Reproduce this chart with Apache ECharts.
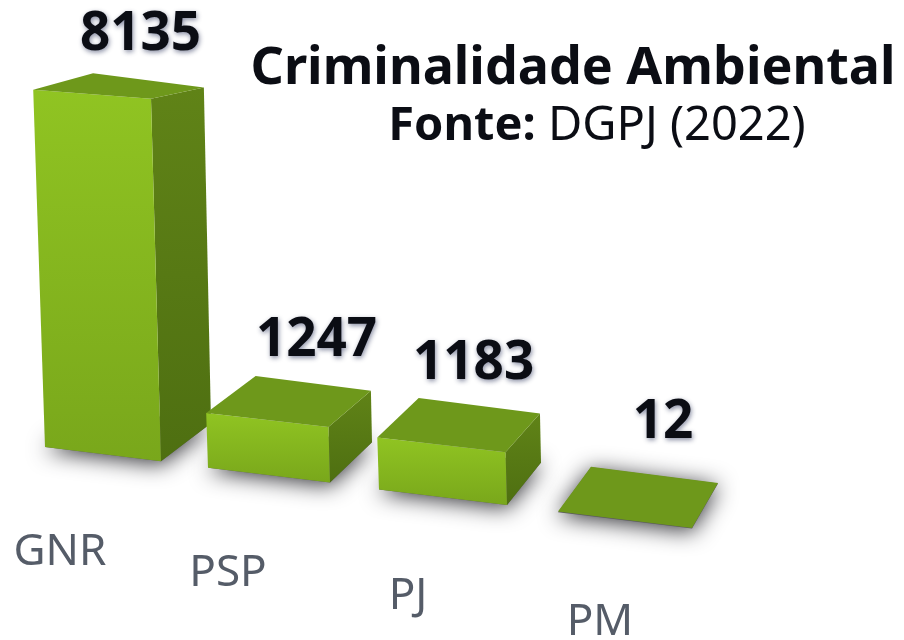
<!DOCTYPE html>
<html>
<head>
<meta charset="utf-8">
<style>
  html, body { margin: 0; padding: 0; background: #fff; }
  #chart { width: 904px; height: 640px; }
</style>
<script src="https://cdn.jsdelivr.net/npm/echarts@6/dist/echarts.min.js"></script>
</head>
<body>
<div id="chart"></div>
<script>
const categories = ['GNR', 'PSP', 'PJ', 'PM'];
const values = [8135, 1247, 1183, 12];
const titleText = 'Criminalidade Ambiental';
const sourceLabel = 'Fonte:';
const sourceText = 'DGPJ (2022)';

// nudges for the labels, the picture does not place them evenly
const valueLabelNudge = [[22, -54], [28, -61], [15, -62], [25, -74]];
const categoryLabelNudge = [[15, 105], [20, 106], [29, 107], [42, 110]];

const font = '"Noto Sans", sans-serif';
const frontColor = ['#90c422', '#79a71b'];
const sideColor = ['#608317', '#4e6f11'];
const topColor = '#6e981b';

function gradient(colors) {
    return new echarts.graphic.LinearGradient(0, 0, 0, 1, [
        { offset: 0, color: colors[0] },
        { offset: 1, color: colors[1] }
    ]);
}

// one fake 3d box, the perspective is only a few skew factors
function renderBox(params, api) {
    const i = api.value(0);
    const v = api.value(1);
    const base = api.coord([i, 0]);
    const h = base[1] - api.coord([i, v])[1];

    const w = 116 + 6 * i;
    const x = base[0] - w / 2 + 4 * i * i;
    const y = base[1] + 0.127 * (x - 45);

    const fl = [x, y];
    const fr = [x + w, y + 0.122 * w];
    const depth = [50 - 8 * i, -38 - 2.3 * i];
    const br = [fr[0] + depth[0], fr[1] + depth[1]];
    const bl = [fl[0] + depth[0] + 7, fl[1] + depth[1]];

    const tfl = [fl[0] - 0.033 * h, fl[1] - h];
    const tfr = [fr[0] - 0.028 * h, fr[1] - 1.015 * h];
    const tbr = [br[0] - 0.02 * h, br[1] - 0.94 * h];
    const tbl = [bl[0] - 0.025 * h, bl[1] - 0.94 * h];

    const topCx = (tfl[0] + tbr[0]) / 2;
    const topCy = (tfl[1] + tbr[1]) / 2;
    const valueNudge = valueLabelNudge[i];
    const catNudge = categoryLabelNudge[i];

    const children = [
        {
            type: 'polygon',
            shape: { points: [fl, fr, br, bl] },
            style: {
                fill: '#5a5a5f',
                shadowBlur: 22,
                shadowOffsetY: 3,
                shadowColor: 'rgba(50,50,55,1)'
            }
        }
    ];
    if (h > 2) {
        children.push(
            {
                type: 'polygon',
                shape: { points: [fr, br, tbr, tfr] },
                style: { fill: gradient(sideColor) }
            },
            {
                type: 'polygon',
                shape: { points: [fl, fr, tfr, tfl] },
                style: { fill: gradient(frontColor) }
            }
        );
    }
    children.push(
        {
            type: 'polygon',
            shape: { points: [tfl, tfr, tbr, tbl] },
            style: { fill: topColor }
        },
        {
            type: 'text',
            style: {
                text: String(values[i]),
                x: topCx + valueNudge[0],
                y: topCy + valueNudge[1],
                textAlign: 'center',
                textVerticalAlign: 'middle',
                fill: '#0b0d14',
                font: 'bold 53px ' + font,
                textShadowBlur: 5,
                textShadowColor: 'rgba(40,50,90,0.55)',
                textShadowOffsetX: 1,
                textShadowOffsetY: 2
            }
        },
        {
            type: 'text',
            style: {
                text: categories[i],
                x: x + catNudge[0],
                y: y + catNudge[1],
                textAlign: 'center',
                textVerticalAlign: 'middle',
                fill: '#555c68',
                font: '44px ' + font
            }
        }
    );
    return { type: 'group', children: children };
}

const myChart = echarts.init(document.getElementById('chart'));
const option = {
    animation: false,
    backgroundColor: '#ffffff',
    title: [
        {
            text: titleText,
            left: 568,
            top: 38,
            textAlign: 'center',
            textStyle: { color: '#0b0d14', fontFamily: font, fontWeight: 'bold', fontSize: 52 }
        },
        {
            text: '{b|' + sourceLabel + '} ' + sourceText,
            left: 592,
            top: 98,
            textAlign: 'center',
            textStyle: {
                color: '#0b0d14',
                fontFamily: font,
                fontWeight: 'normal',
                fontSize: 47,
                rich: {
                    b: { color: '#0b0d14', fontFamily: font, fontWeight: 'bold', fontSize: 47 }
                }
            }
        }
    ],
    grid: { left: 22, width: 648, top: 8, height: 439 },
    xAxis: { type: 'category', data: categories, show: false },
    yAxis: { type: 'value', min: 0, max: 10000, show: false },
    series: [
        {
            type: 'custom',
            renderItem: renderBox,
            clip: false,
            encode: { x: 0, y: 1 },
            data: values.map((v, i) => [i, v])
        }
    ]
};
myChart.setOption(option);
</script>
</body>
</html>
